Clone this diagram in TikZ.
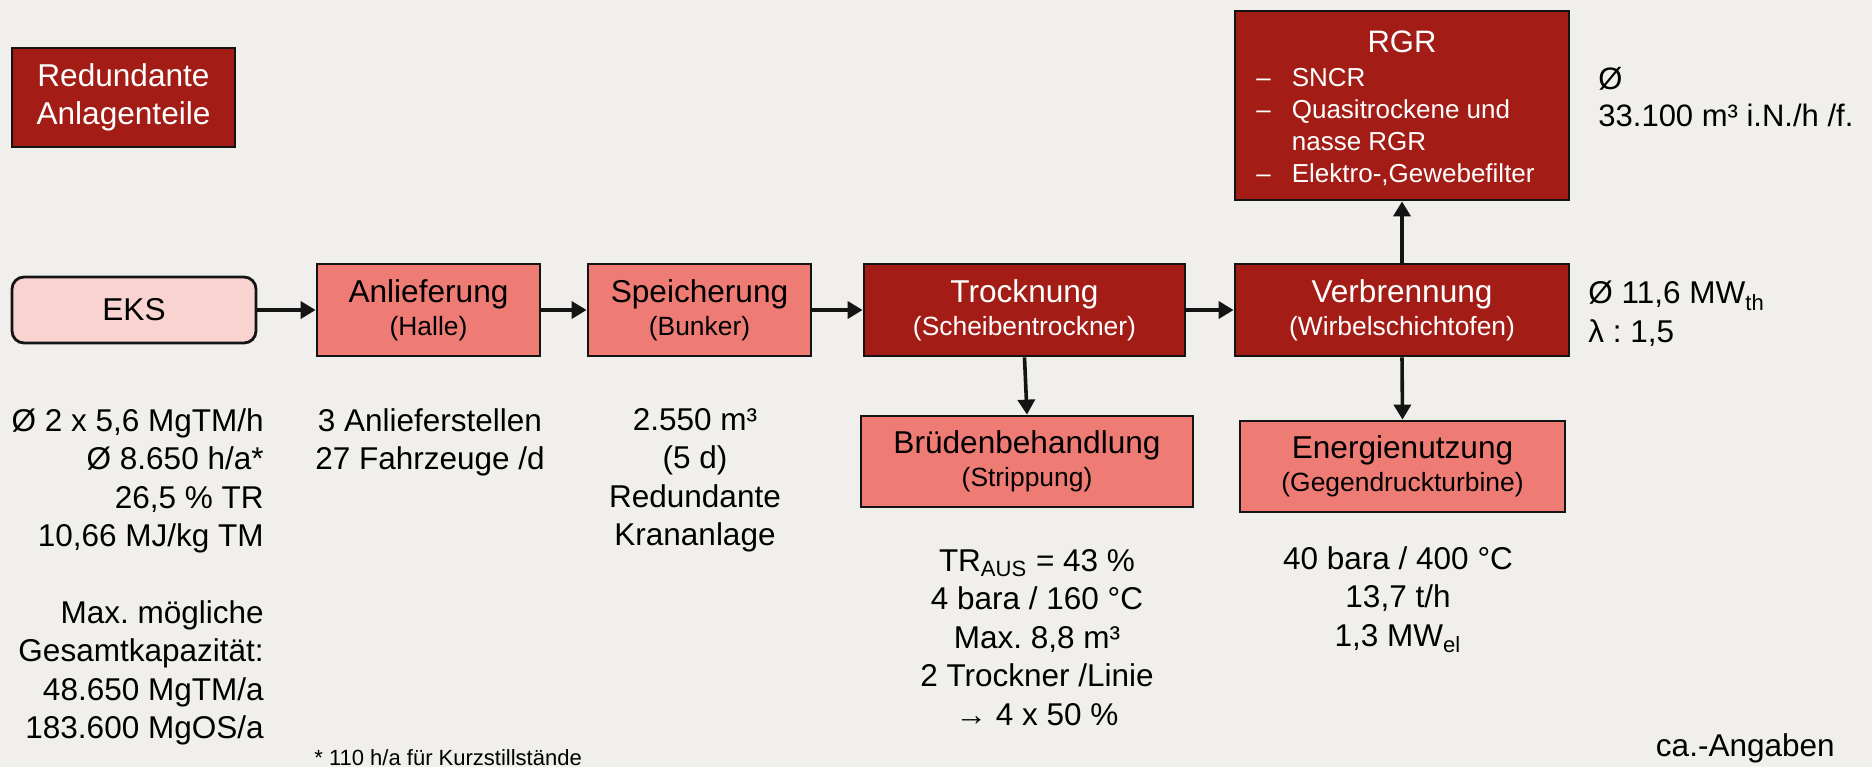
\documentclass[tikz,border=0pt]{standalone}
\usepackage{fontspec}
\setmainfont{Liberation Sans}
\usetikzlibrary{arrows.meta}
\definecolor{bgc}{RGB}{240,239,235}
\definecolor{dred}{RGB}{163,29,22}
\definecolor{salmon}{RGB}{239,123,117}
\definecolor{pinkc}{RGB}{249,211,208}
\newcommand\boxsub[1]{{\fontsize{13.2}{16.7}\selectfont #1}}
\frenchspacing
\begin{document}
\begin{tikzpicture}[x=0.5pt,y=-0.5pt,
  box/.style={draw=black!92, line width=1.4pt, inner sep=0pt, align=center,
    font=\fontsize{15.8}{16.7}\selectfont},
  dbox/.style={box, fill=dred, text=white},
  lbox/.style={box, fill=salmon, text=black},
  dat/.style={font=\fontsize{15.75}{19.2}\selectfont, inner sep=0pt, text=black},
  arr/.style={draw=black!92, line width=1.8pt, -{Triangle[length=7.5pt,width=8.5pt]}}
]
\fill[bgc] (0,0) rectangle (1872,767);
\useasboundingbox (0,0) rectangle (1872,767);

% legend box
\node[dbox, minimum width=111.5pt, minimum height=49.5pt,
  font=\fontsize{15.8}{19}\selectfont] (legend) at (123.5,97.5) {Redundante\\Anlagenteile};

% main row
\node[box, fill=pinkc, rounded corners=6pt, minimum width=122pt, minimum height=33pt] (eks) at (134,310) {EKS};
\node[lbox, minimum width=111.5pt, minimum height=46pt] (anl) at (428.5,310) {Anlieferung\\\boxsub{(Halle)}};
\node[lbox, minimum width=111.5pt, minimum height=46pt] (spe) at (699.5,310) {Speicherung\\\boxsub{(Bunker)}};
\node[dbox, minimum width=160.5pt, minimum height=46pt] (tro) at (1024.5,310) {Trocknung\\\boxsub{(Scheibentrockner)}};
\node[dbox, minimum width=167pt, minimum height=46pt] (ver) at (1402,310) {Verbrennung\\\boxsub{(Wirbelschichtofen)}};

% RGR
\node[dbox, minimum width=167pt, minimum height=94.5pt] (rgr) at (1402,105.5) {};
\node[inner sep=0pt, text=white, font=\fontsize{15.5}{18}\selectfont] (rgrt) at (1402,42) {RGR};
\node[inner sep=0pt, anchor=north west, text=white, font=\fontsize{13}{16}\selectfont] (rgrl) at (1256,64)
  {\begin{tabular}{@{}l@{\hspace{10.5pt}}l@{}}
   -- & SNCR\\
   -- & Quasitrockene und\\
      & nasse RGR\\
   -- & Elektro-,Gewebefilter
   \end{tabular}};

% lower boxes
\node[lbox, minimum width=166pt, minimum height=45.5pt] (bru) at (1027,461.5) {Brüdenbehandlung\\\boxsub{(Strippung)}};
\node[lbox, minimum width=162.5pt, minimum height=45.5pt] (ene) at (1402.5,466.5) {Energienutzung\\\boxsub{(Gegendruckturbine)}};

% connectors
\draw[arr] (eks) -- (anl);
\draw[arr] (anl) -- (spe);
\draw[arr] (spe) -- (tro);
\draw[arr] (tro) -- (ver);
\draw[arr] (tro.south) -- (bru.north);
\draw[arr] (ver.north) -- (rgr.south);
\draw[arr] (ver.south) -- (ene.north);

% data texts
\node[dat, align=right, anchor=north east] (ekst) at (264,408)
  {Ø 2 x 5,6 MgTM/h\\Ø 8.650 h/a*\\26,5 \% TR\\10,66 MJ/kg TM\\[19.2pt]Max. mögliche\\Gesamtkapazität:\\48.650 MgTM/a\\183.600 MgOS/a};
\node[dat, align=center, anchor=north] (anlt) at (430,408) {3 Anlieferstellen\\27 Fahrzeuge /d};
\node[dat, align=center, anchor=north] (spet) at (695,408) {2.550 m³\\(5 d)\\Redundante\\Krananlage};
\node[dat, align=center, anchor=north] (brut) at (1037,549)
  {TR\textsubscript{AUS} = 43 \%\\4 bara / 160 °C\\Max. 8,8 m³\\2 Trockner /Linie\\→ 4 x 50 \%};
\node[dat, align=center, anchor=north] (enet) at (1398,546)
  {40 bara / 400 °C\\13,7 t/h\\1,3 MW\textsubscript{el}};
\node[dat, align=left, anchor=north west] (vert) at (1588,281) {Ø 11,6 MW\textsubscript{th}\\λ : 1,5};
\node[dat, align=left, anchor=north west, font=\fontsize{15.5}{18.5}\selectfont] (rgrd) at (1598,67) {Ø\\33.100 m³ i.N./h /f.};
\node[dat, anchor=base east] (ca) at (1835,756) {ca.-Angaben};
\node[inner sep=0pt, anchor=base west, font=\fontsize{11}{13}\selectfont] (foot) at (314,765) {* 110 h/a für Kurzstillstände};
\end{tikzpicture}
\end{document}
